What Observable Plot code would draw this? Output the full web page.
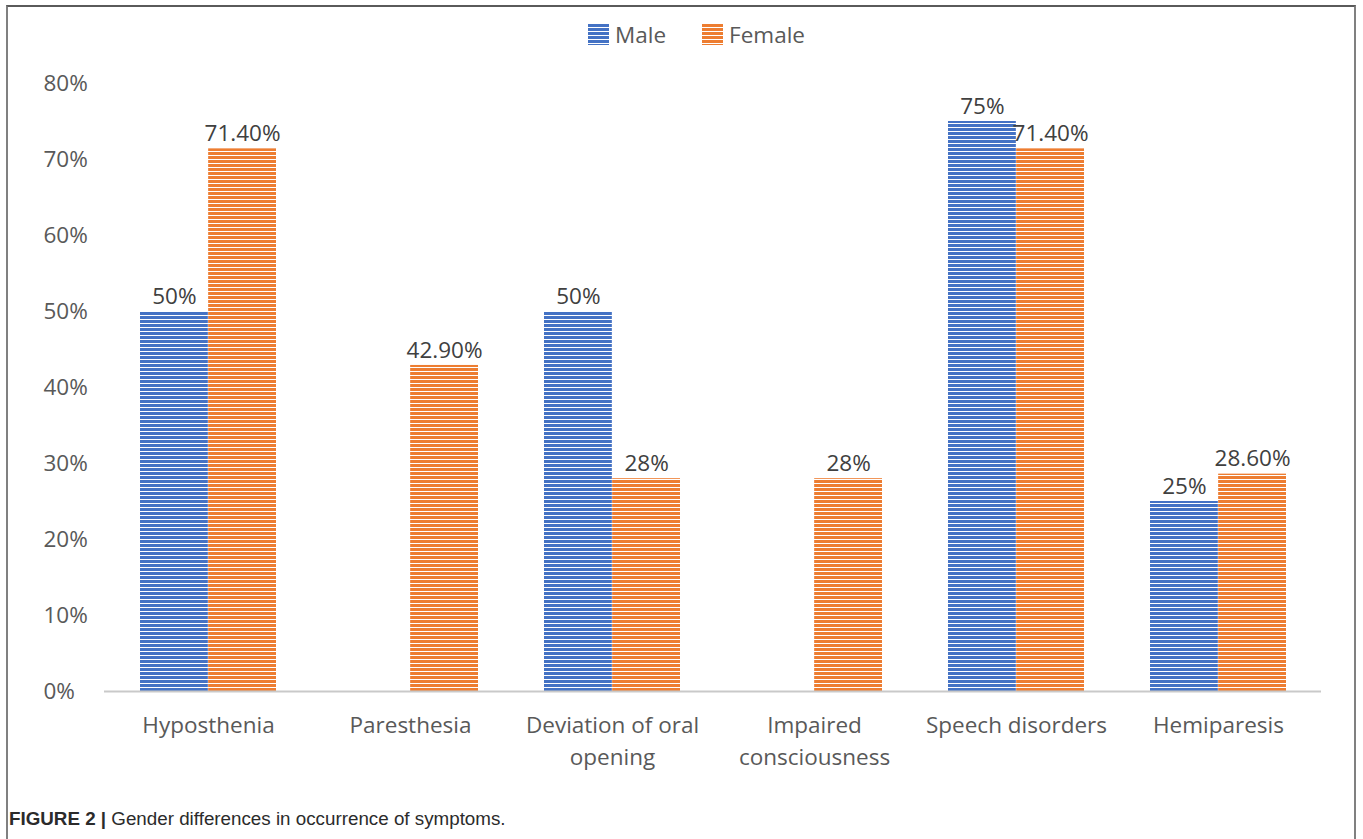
<!DOCTYPE html>
<html>
<head>
<meta charset="utf-8">
<script src="https://cdn.jsdelivr.net/npm/d3@7"></script>
<script src="https://cdn.jsdelivr.net/npm/@observablehq/plot@0.6"></script>
<style>
  html, body { margin: 0; padding: 0; background: #fff; }
  #page { position: relative; width: 1363px; height: 839px; overflow: hidden; background: #fff; }
  #frame { position: absolute; left: 6px; top: 5px; width: 1346px; height: 840px;
           border-left: 2px solid #808080; border-top: 2px solid #5a5a5a; border-right: 2px solid #808080; }
  #legend { position: absolute; top: 19px; left: 588px; display: flex; align-items: center;
            font-family: "Open Sans", sans-serif; font-size: 22.5px; color: #595959; }
  #legend .item { display: flex; align-items: center; margin-right: 36px; }
  #legend svg { margin-right: 6px; }
  #chart { position: absolute; left: 0; top: 60px; }
  #caption { position: absolute; left: 9px; top: 808px; font-family: "Liberation Sans", Arial, sans-serif;
             font-size: 18.8px; color: #2b2b2b; white-space: nowrap; }
  #caption b { font-weight: bold; }
</style>
</head>
<body>
<div id="page">
  <div id="frame"></div>
  <div id="legend"></div>
  <div id="chart"></div>
  <div id="caption"><b>FIGURE 2 |</b> Gender differences in occurrence of symptoms.</div>
</div>
<script>
// Symptom categories (line breaks mark wrapped axis labels)
const symptoms = [
  "Hyposthenia",
  "Paresthesia",
  "Deviation of oral\nopening",
  "Impaired\nconsciousness",
  "Speech disorders",
  "Hemiparesis"
];
// Share of patients with each symptom, by sex (null = no bar)
const maleValues   = [0.50, null, 0.50, null, 0.75, 0.25];
const femaleValues = [0.714, 0.429, 0.28, 0.28, 0.714, 0.286];
const maleLabels   = ["50%", "", "50%", "", "75%", "25%"];
const femaleLabels = ["71.40%", "42.90%", "28%", "28%", "71.40%", "28.60%"];
const seriesNames  = ["Male", "Female"];
const seriesColors = ["#4472C4", "#ED7D31"];
// Y axis ticks
const yTickValues = [0, 0.1, 0.2, 0.3, 0.4, 0.5, 0.6, 0.7, 0.8];
const yTickLabels = ["0%", "10%", "20%", "30%", "40%", "50%", "60%", "70%", "80%"];

const male = symptoms.map((s, i) => ({symptom: s, value: maleValues[i], label: maleLabels[i]}))
  .filter(d => d.value != null);
const female = symptoms.map((s, i) => ({symptom: s, value: femaleValues[i], label: femaleLabels[i]}))
  .filter(d => d.value != null);

const W = 1363, H = 720, ML = 104, MR = 42, MT = 23, MB = 89;
const padIn = 0.328;
const step = (W - ML - MR) / symptoms.length;
const bw = step * (1 - padIn);
const font = "'Open Sans', sans-serif";

// Striped fills, shared by the bars and the legend swatches
const patternIds = ["stripes-male", "stripes-female"];
function addPatterns(svg) {
  const defs = d3.select(svg).insert("defs", ":first-child");
  seriesColors.forEach((c, i) => {
    const p = defs.append("pattern").attr("id", patternIds[i])
      .attr("patternUnits", "userSpaceOnUse").attr("width", 8).attr("height", 4);
    p.append("rect").attr("width", 8).attr("height", 4).attr("fill", "#fff");
    p.append("rect").attr("width", 8).attr("height", 3).attr("fill", c);
  });
}

const chart = Plot.plot({
  width: W, height: H,
  marginLeft: ML, marginRight: MR, marginTop: MT, marginBottom: MB,
  style: {fontFamily: font, fontSize: "22.5px", background: "transparent", overflow: "visible"},
  x: {domain: symptoms, paddingInner: padIn, paddingOuter: padIn / 2, label: null},
  y: {domain: [0, 0.8], label: null},
  marks: [
    Plot.axisY({ticks: yTickValues, tickFormat: d => yTickLabels[yTickValues.indexOf(d)],
      tickSize: 0, tickPadding: 61, textAnchor: "start", fill: "#595959", label: null}),
    Plot.axisX({tickSize: 0, tickPadding: 19, lineHeight: 1.42, fill: "#595959", label: null}),
    Plot.barY(male, {x: "symptom", y: "value", fill: "url(#stripes-male)", insetRight: bw / 2}),
    Plot.barY(female, {x: "symptom", y: "value", fill: "url(#stripes-female)", insetLeft: bw / 2}),
    Plot.ruleY([0], {stroke: "#c9c9c9", strokeWidth: 2}),
    Plot.text(male, {x: "symptom", y: "value", text: "label", dx: -bw / 4, dy: -15, fill: "#404040"}),
    Plot.text(female, {x: "symptom", y: "value", text: "label", dx: bw / 4, dy: -15, fill: "#404040"})
  ]
});
addPatterns(chart);
document.getElementById("chart").appendChild(chart);

// Legend
const legend = d3.select("#legend");
seriesNames.forEach((name, i) => {
  const item = legend.append("div").attr("class", "item");
  const sw = item.append("svg").attr("width", 21).attr("height", 21);
  sw.append("rect").attr("width", 21).attr("height", 21).attr("fill", `url(#${patternIds[i]})`);
  item.append("span").text(name);
});
</script>
</body>
</html>
